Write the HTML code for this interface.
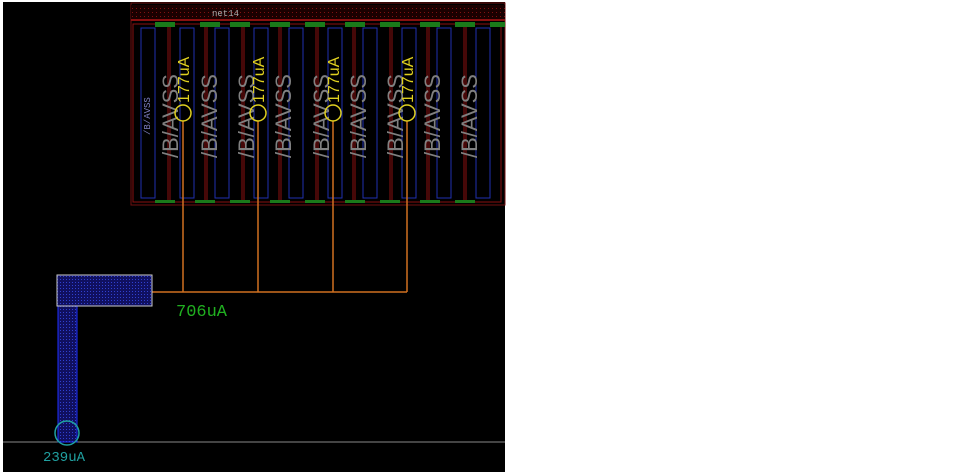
<!DOCTYPE html>
<html><head><style>body{margin:0;background:#fff}svg{display:block}</style></head><body>
<svg width="960" height="476" xmlns="http://www.w3.org/2000/svg" font-family="Liberation Mono, monospace">
<defs>
<pattern id="hb" width="3" height="3" patternUnits="userSpaceOnUse"><rect width="3" height="3" fill="#101060"/><rect width="1" height="1" fill="#3040d0"/></pattern>
<pattern id="hr" width="4" height="4" patternUnits="userSpaceOnUse"><rect width="4" height="4" fill="#1a0000"/><rect width="1" height="1" fill="#801010"/></pattern>
</defs>
<rect x="3" y="2" width="502" height="470" fill="#000"/>
<rect x="131" y="3" width="374" height="202" fill="none" stroke="#701010"/>
<rect x="131" y="5" width="374" height="14" fill="url(#hr)"/>
<line x1="131" y1="20" x2="505" y2="20" stroke="#8a1010" stroke-width="2"/>
<text x="212" y="16" font-size="9" fill="#aaa">net14</text>
<g fill="none" stroke="#8a1010">
<rect x="133" y="24" width="35" height="178"/><rect x="170" y="24" width="35" height="178"/>
<rect x="207" y="24" width="35" height="178"/><rect x="244" y="24" width="35" height="178"/>
<rect x="281" y="24" width="35" height="178"/><rect x="318" y="24" width="35" height="178"/>
<rect x="355" y="24" width="35" height="178"/><rect x="392" y="24" width="35" height="178"/>
<rect x="429" y="24" width="35" height="178"/><rect x="466" y="24" width="35" height="178"/>
</g>
<g fill="none" stroke="#2030b0">
<rect x="141" y="28" width="14" height="170"/><rect x="180" y="28" width="14" height="170"/>
<rect x="215" y="28" width="14" height="170"/><rect x="254" y="28" width="14" height="170"/>
<rect x="289" y="28" width="14" height="170"/><rect x="328" y="28" width="14" height="170"/>
<rect x="363" y="28" width="14" height="170"/><rect x="402" y="28" width="14" height="170"/>
<rect x="437" y="28" width="14" height="170"/><rect x="476" y="28" width="14" height="170"/>
</g>
<g fill="#1a7a1a">
<rect x="155" y="22" width="20" height="5"/><rect x="200" y="22" width="20" height="5"/><rect x="230" y="22" width="20" height="5"/>
<rect x="270" y="22" width="20" height="5"/><rect x="305" y="22" width="20" height="5"/><rect x="345" y="22" width="20" height="5"/>
<rect x="380" y="22" width="20" height="5"/><rect x="420" y="22" width="20" height="5"/><rect x="455" y="22" width="20" height="5"/><rect x="490" y="22" width="15" height="5"/>
<rect x="155" y="200" width="20" height="3"/><rect x="195" y="200" width="20" height="3"/><rect x="230" y="200" width="20" height="3"/><rect x="270" y="200" width="20" height="3"/><rect x="305" y="200" width="20" height="3"/><rect x="345" y="200" width="20" height="3"/><rect x="380" y="200" width="20" height="3"/><rect x="420" y="200" width="20" height="3"/><rect x="455" y="200" width="20" height="3"/>
</g>
<g fill="#808080" font-family="Liberation Sans, sans-serif" font-size="22">
<text transform="translate(178,158) rotate(-90)">/B/AVSS</text>
<text transform="translate(217,158) rotate(-90)">/B/AVSS</text>
<text transform="translate(254,158) rotate(-90)">/B/AVSS</text>
<text transform="translate(291,158) rotate(-90)">/B/AVSS</text>
<text transform="translate(329,158) rotate(-90)">/B/AVSS</text>
<text transform="translate(366,158) rotate(-90)">/B/AVSS</text>
<text transform="translate(403,158) rotate(-90)">/B/AVSS</text>
<text transform="translate(440,158) rotate(-90)">/B/AVSS</text>
<text transform="translate(477,158) rotate(-90)">/B/AVSS</text>
</g>
<text transform="translate(150,135) rotate(-90)" font-size="9" fill="#8080c0">/B/AVSS</text>
<g stroke="#d07020" stroke-width="1.5" fill="none">
<line x1="183" y1="121" x2="183" y2="292"/><line x1="258" y1="121" x2="258" y2="292"/>
<line x1="333" y1="121" x2="333" y2="292"/><line x1="407" y1="121" x2="407" y2="292"/>
<line x1="152" y1="292" x2="407" y2="292"/>
</g>
<g stroke="#e0d020" stroke-width="1.5" fill="none">
<circle cx="183" cy="113" r="8"/><circle cx="258" cy="113" r="8"/><circle cx="333" cy="113" r="8"/><circle cx="407" cy="113" r="8"/>
</g>
<g fill="#e0d020" font-family="Liberation Sans, sans-serif" font-size="16">
<text transform="translate(189,103) rotate(-90)">177uA</text>
<text transform="translate(264,103) rotate(-90)">177uA</text>
<text transform="translate(339,103) rotate(-90)">177uA</text>
<text transform="translate(413,103) rotate(-90)">177uA</text>
</g>
<line x1="3" y1="442" x2="505" y2="442" stroke="#888"/>
<rect x="58" y="306" width="19" height="136" fill="url(#hb)" stroke="#2030ff"/>
<rect x="57" y="275" width="95" height="31" fill="url(#hb)" stroke="#ccc"/>
<circle cx="67" cy="433" r="12" fill="none" stroke="#20a0a0" stroke-width="1.5"/>
<text x="176" y="316" font-size="17" fill="#20b020">706uA</text>
<text x="43" y="461" font-size="14" fill="#20a0a0">239uA</text>
</svg>
</body></html>
